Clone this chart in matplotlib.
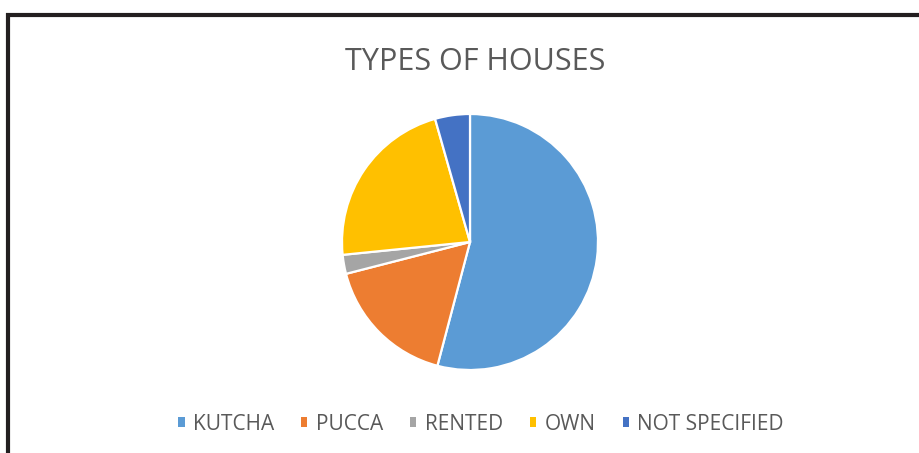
import matplotlib
matplotlib.use("Agg")
import matplotlib.pyplot as plt
from matplotlib import font_manager
from matplotlib.lines import Line2D

# House types surveyed (share of households, %)
categories = ["KUTCHA", "PUCCA", "RENTED", "OWN", "NOT SPECIFIED"]
shares = [54.1, 16.9, 2.4, 22.2, 4.4]
colors = ["#5B9BD5", "#ED7D31", "#A5A5A5", "#FFC000", "#4472C4"]
title = "TYPES OF HOUSES"

available = {f.name for f in font_manager.fontManager.ttflist}
family = "Liberation Sans Narrow" if "Liberation Sans Narrow" in available else "Open Sans"
plt.rcParams["font.family"] = [family, "DejaVu Sans"]

W, H = 920, 453
fig = plt.figure(figsize=(W / 100, H / 100), dpi=100)
fig.patch.set_facecolor("white")

# Pie axes: centre (470, 242) px, radius 128 px
cx, cy, r = 470, 242, 128
pad = 1.02
ax = fig.add_axes([(cx - r * pad) / W, (H - cy - r * pad) / H, 2 * r * pad / W, 2 * r * pad / H])
ax.pie(shares, colors=colors, startangle=90, counterclock=False, radius=1,
       wedgeprops=dict(edgecolor="white", linewidth=1.6))
ax.set_xlim(-pad, pad)
ax.set_ylim(-pad, pad)
ax.set_aspect("equal")
ax.axis("off")

fig.text(475 / W, 1 - 62 / H, title, ha="center", va="center",
         fontsize=22, color="#595959")

handles = [plt.Rectangle((0, 0), 1, 1, facecolor=c, edgecolor="none") for c in colors]
leg = fig.legend(handles, categories, loc="center", bbox_to_anchor=(481 / W, 1 - 424 / H),
                 ncol=5, frameon=False, fontsize=15, handlelength=0.3, handleheight=0.3,
                 handletextpad=0.4, columnspacing=1.3, labelcolor="#595959",
                 borderpad=0.0, borderaxespad=0.0)

# Frame lines along the top and left edges
fig.add_artist(Line2D([6 / W, 1.0], [1 - 15 / H, 1 - 15 / H], transform=fig.transFigure,
                      color="#231F20", linewidth=3.0, solid_capstyle="butt"))
fig.add_artist(Line2D([8 / W, 8 / W], [1 - 13 / H, 0.0], transform=fig.transFigure,
                      color="#231F20", linewidth=3.0, solid_capstyle="butt"))

fig.savefig("out.png", dpi=100, facecolor="white")
